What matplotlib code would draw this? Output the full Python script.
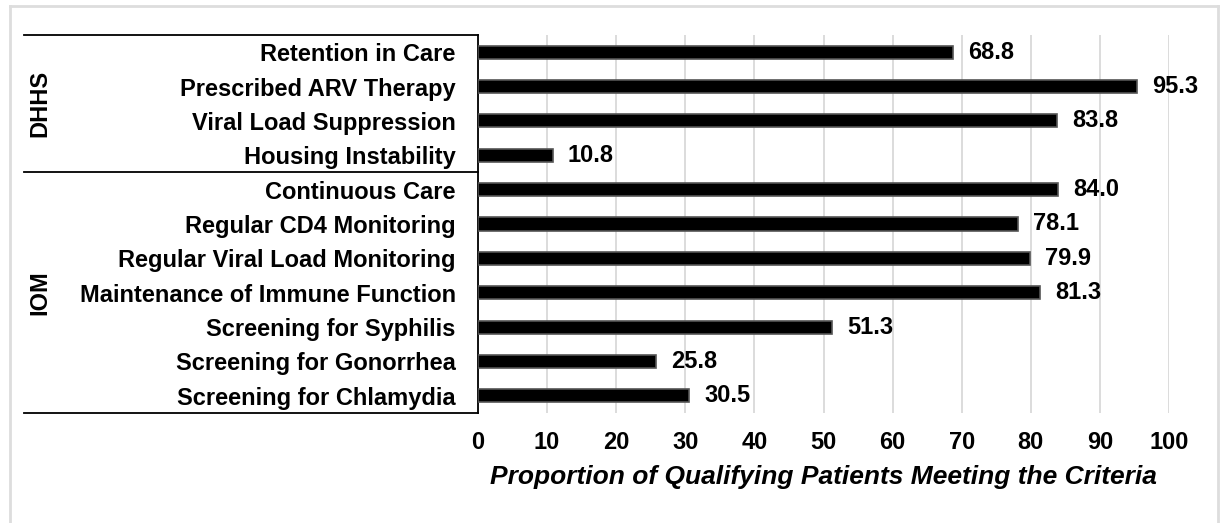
import matplotlib
matplotlib.use("Agg")
import matplotlib.pyplot as plt
import matplotlib.transforms as mtransforms
from matplotlib.lines import Line2D
import numpy as np

plt.rcParams['font.family'] = ['Liberation Sans', 'DejaVu Sans']

# Data
measures = ['Retention in Care', 'Prescribed ARV Therapy', 'Viral Load Suppression',
            'Housing Instability', 'Continuous Care', 'Regular CD4 Monitoring',
            'Regular Viral Load Monitoring', 'Maintenance of Immune Function',
            'Screening for Syphilis', 'Screening for Gonorrhea', 'Screening for Chlamydia']
proportions = [68.8, 95.3, 83.8, 10.8, 84.0, 78.1, 79.9, 81.3, 51.3, 25.8, 30.5]
groups = ['DHHS', 'IOM']
group_sizes = [4, 7]
x_ticks = [0, 10, 20, 30, 40, 50, 60, 70, 80, 90, 100]

W, H = 1221, 523
fig = plt.figure(figsize=(W / 100, H / 100), dpi=100)
ax = fig.add_axes([478 / W, 1 - 413 / H, (1169 - 478) / W, (413 - 35) / H])

y = np.arange(len(measures))
ax.barh(y, proportions, height=0.38, color='black', edgecolor='#555555', linewidth=1.2, zorder=3)
for yi, v in zip(y, proportions):
    ax.text(v + 2.2, yi, f'{v:.1f}', va='center', ha='left', fontsize=17, fontweight='bold')

ax.set_ylim(len(measures) - 0.5, -0.5)
ax.set_xlim(0, 100)
ax.set_xticks(x_ticks)
ax.set_yticks(y)
ax.set_yticklabels(measures, fontsize=17, fontweight='bold')
ax.tick_params(axis='y', length=0, pad=16)
ax.tick_params(axis='x', length=0, pad=13, labelsize=17)
for lab in ax.get_xticklabels():
    lab.set_fontweight('bold')
ax.grid(axis='x', color='#d9d9d9', linewidth=1.3, zorder=0)
for s in ['top', 'right', 'bottom']:
    ax.spines[s].set_visible(False)
ax.spines['left'].set_color('black')
ax.spines['left'].set_linewidth(1.3)

ax.set_xlabel('Proportion of Qualifying Patients Meeting the Criteria',
              fontsize=19, fontweight='bold', style='italic', labelpad=8)

# group table lines and labels
trans = mtransforms.blended_transform_factory(fig.transFigure, ax.transData)
x0, x1 = 24 / W, 478 / W
bounds = [-0.5]
for n in group_sizes:
    bounds.append(bounds[-1] + n)
for b in bounds:
    ax.add_line(Line2D([x0, x1], [b, b], transform=trans, color='black',
                       linewidth=1.3, clip_on=False))
for g, a, b in zip(groups, bounds[:-1], bounds[1:]):
    ax.text(40 / W, (a + b) / 2, g, transform=trans, rotation=90, ha='center',
            va='center', fontsize=17, fontweight='bold')

# light outer frame
for xs, ys in [([10 / W, 10 / W], [0, 1 - 6 / H]),
               ([10 / W, 1218 / W], [1 - 6 / H, 1 - 6 / H]),
               ([1218 / W, 1218 / W], [0, 1 - 6 / H])]:
    fig.add_artist(Line2D(xs, ys, transform=fig.transFigure, color='#dddddd', linewidth=2))

fig.savefig('out.png', dpi=100)
